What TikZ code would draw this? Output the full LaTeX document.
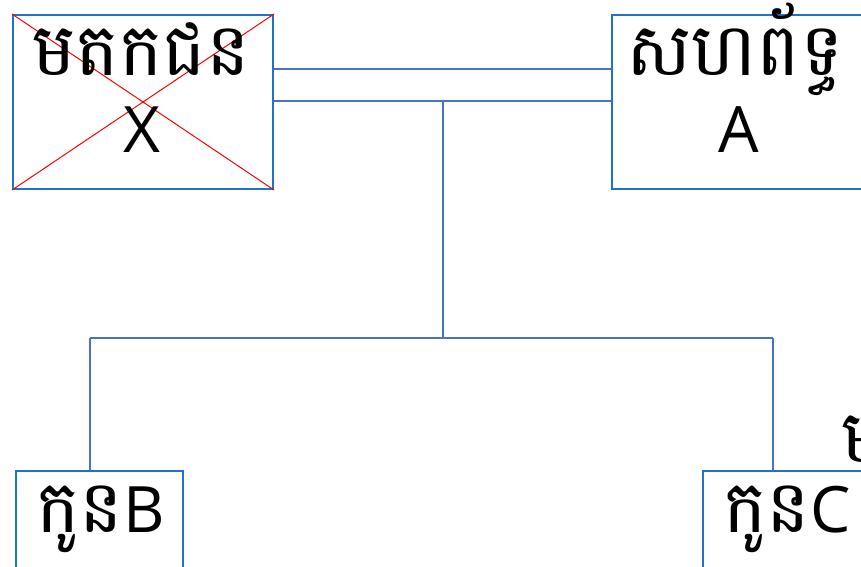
\documentclass[tikz,border=0pt]{standalone}
\usepackage{fontspec}
\setmainfont{Open Sans}
\newfontfamily\kh[Script=Khmer]{Battambang}
\definecolor{boxblue}{HTML}{1F74C6}
\definecolor{linkblue}{HTML}{4A72C0}
\tikzset{
  personbox/.style={draw=boxblue, line width=2pt, rectangle, inner sep=0pt, anchor=north west, fill=none},
  link/.style={draw=linkblue, line width=1.3pt},
  bigtext/.style={font=\fontsize{64}{70}\selectfont, inner sep=0pt, text=black, anchor=base},
  khtext/.style={font=\kh\fontsize{73}{80}\selectfont, inner sep=0pt, text=black, anchor=base, text depth=0pt},
  cross/.style={draw=red, line width=1pt}
}
\begin{document}
\begin{tikzpicture}[x=1pt,y=-1pt]
\useasboundingbox (0,0) rectangle (861,566);
\clip (0,0) rectangle (861,566);
% boxes
\node[personbox, minimum width=260pt, minimum height=174pt] (X) at (12,14) {};
\node[personbox, minimum width=260pt, minimum height=174pt] (A) at (611,14) {};
\node[personbox, minimum width=167pt, minimum height=120pt] (B) at (15,470) {};
\node[personbox, minimum width=167pt, minimum height=120pt] (C) at (702,470) {};
% cross on deceased
\draw[cross] (X.north west) -- (X.south east);
\draw[cross] (X.south west) -- (X.north east);
% texts
\node[khtext] (tX) at (141,75) {មតកជន};
\node[bigtext] (tXl) at (142,152) {X};
\node[khtext] (tA) at (735,75) {សហព័ទ្ធ};
\node[bigtext] (tAl) at (739,152) {A};
\node[khtext, anchor=base west] (tB) at (36,532) {កូន};
\node[bigtext, anchor=base west] (tBl) at (tB.base east) {B};
\node[khtext, anchor=base west] (tC) at (723,532) {កូន};
\node[bigtext, anchor=base west] (tCl) at (tC.base east) {C};
\node[khtext, anchor=base west] (tM) at (841,462) {ម};
% connectors
\draw[link] ([yshift=-55pt]X.north east) -- ([yshift=-55pt]A.north west);
\draw[link] ([yshift=-87pt]X.north east) -- ([yshift=-87pt]A.north west);
\coordinate (j1) at (443,101);
\coordinate (j2) at (443,338);
\coordinate (jb) at (90,338);
\coordinate (jc) at (773,338);
\draw[link] (j1) -- (j2);
\draw[link] (jb) -- (jc);
\draw[link] (jb) -- (jb |- B.north);
\draw[link] (jc) -- (jc |- C.north);
\end{tikzpicture}
\end{document}
